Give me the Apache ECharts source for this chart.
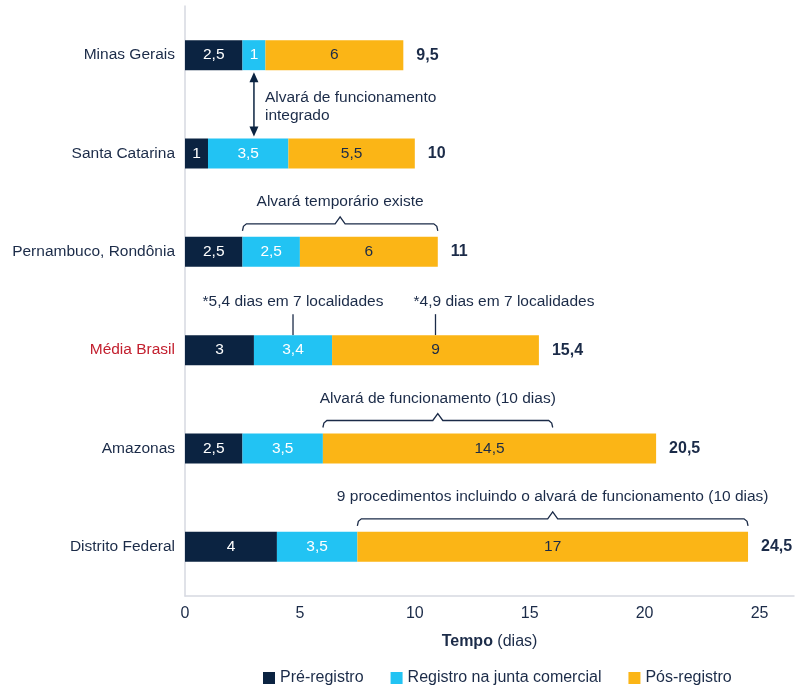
<!DOCTYPE html>
<html lang="pt">
<head>
    <meta charset="UTF-8">
    <script src="https://cdn.jsdelivr.net/npm/echarts@6/dist/echarts.min.js"></script>
    <style>
        html, body { margin: 0; padding: 0; background: #fff; }
    </style>
</head>
<body>
<div id="chart" style="width: 795px;height: 688px"></div>

<script>
    // dados
    var categories = ['Minas Gerais', 'Santa Catarina', 'Pernambuco, Rondônia', 'Média Brasil', 'Amazonas', 'Distrito Federal'];
    var preRegistro = [2.5, 1, 2.5, 3, 2.5, 4];
    var registroJunta = [1, 3.5, 2.5, 3.4, 3.5, 3.5];
    var posRegistro = [6, 5.5, 6, 9, 14.5, 17];
    var xTicks = [0, 5, 10, 15, 20, 25];

    // anotações (valores no eixo x, índice da categoria)
    var arrowNote = [[3, 0, 1]];
    var arrowText = 'Alvará de funcionamento\nintegrado';
    var braceCats = [2, 4, 5];
    var braceFrom = [2.5, 6, 7.5];
    var braceTo = [11, 16, 24.5];
    var braceTexts = ['Alvará temporário existe', 'Alvará de funcionamento (10 dias)', '9 procedimentos incluindo o alvará de funcionamento (10 dias)'];
    var pointerCats = [3, 3];
    var pointerX = [4.7, 10.9];
    var pointerTexts = ['*5,4 dias em 7 localidades', '*4,9 dias em 7 localidades'];

    var NAVY = '#0b2341', CYAN = '#22c3f3', ORANGE = '#fbb516', TEXT = '#1b2b48', RED = '#c3202f';
    var FONT = '"Liberation Sans", Arial, sans-serif';
    var FS = 15.5;   // anotações e categorias
    var FS_AX = 16;  // eixo, legenda, totais
    var BAR_H = 30;

    function fmt(v) {
        return String(v).replace('.', ',');
    }

    var totals = categories.map(function (c, i) {
        return [Math.round((preRegistro[i] + registroJunta[i] + posRegistro[i]) * 10) / 10, i];
    });
    var braceData = braceCats.map(function (c, i) { return [braceFrom[i], braceTo[i], c]; });
    var pointerData = pointerCats.map(function (c, i) { return [pointerX[i], c]; });
    var pointerAlign = ['center', 'left'];

    var chart = echarts.init(document.getElementById('chart'));

    function barSeries(name, data, color, labelColor) {
        return {
            name: name,
            type: 'bar',
            stack: 'total',
            barWidth: BAR_H,
            itemStyle: { color: color },
            label: {
                show: true,
                position: 'inside',
                color: labelColor,
                fontFamily: FONT,
                fontSize: FS,
                formatter: function (p) { return fmt(p.value); }
            },
            data: data
        };
    }

    var option = {
        animation: false,
        textStyle: { fontFamily: FONT },
        grid: { left: 185, right: 1, top: 6, bottom: 92, outerBoundsMode: 'none', containLabel: false },
        legend: {
            data: ['Pré-registro', 'Registro na junta comercial', 'Pós-registro'],
            bottom: -3,
            left: 258,
            icon: 'rect',
            itemWidth: 12,
            itemHeight: 12,
            itemGap: 27,
            textStyle: { color: TEXT, fontFamily: FONT, fontSize: FS_AX }
        },
        xAxis: {
            type: 'value',
            min: 0,
            max: 26.5,
            interval: 5,
            splitLine: { show: false },
            axisTick: { show: false },
            axisLine: { show: true, lineStyle: { color: '#d6d9e1', width: 1.5 } },
            axisLabel: {
                color: TEXT,
                fontFamily: FONT,
                fontSize: FS_AX,
                margin: 10,
                showMaxLabel: false,
                formatter: function (v) { return xTicks.indexOf(v) >= 0 ? String(v) : ''; }
            },
            name: '{b|Tempo} (dias)',
            nameLocation: 'middle',
            nameGap: 38,
            nameTextStyle: {
                color: TEXT,
                fontFamily: FONT,
                fontSize: FS_AX,
                rich: { b: { fontWeight: 'bold', color: TEXT, fontFamily: FONT, fontSize: FS_AX } }
            }
        },
        yAxis: {
            type: 'category',
            inverse: true,
            data: categories,
            axisTick: { show: false },
            axisLine: { show: true, lineStyle: { color: '#d6d9e1', width: 1.5 } },
            axisLabel: {
                margin: 10,
                fontFamily: FONT,
                fontSize: FS,
                color: function (v) { return v === 'Média Brasil' ? RED : TEXT; }
            }
        },
        series: [
            barSeries('Pré-registro', preRegistro, NAVY, '#fff'),
            barSeries('Registro na junta comercial', registroJunta, CYAN, '#fff'),
            barSeries('Pós-registro', posRegistro, ORANGE, TEXT),
            {
                // totais à direita das barras
                type: 'custom',
                silent: true,
                encode: { x: 0, y: 1 },
                data: totals,
                renderItem: function (params, api) {
                    var p = api.coord([api.value(0), api.value(1)]);
                    return {
                        type: 'text',
                        style: {
                            x: p[0] + 13, y: p[1],
                            text: fmt(api.value(0)),
                            fill: TEXT, font: 'bold ' + FS_AX + 'px ' + FONT,
                            textAlign: 'left', textVerticalAlign: 'middle'
                        }
                    };
                }
            },
            {
                // seta entre Minas Gerais e Santa Catarina
                type: 'custom',
                silent: true,
                encode: { x: 0, y: [1, 2] },
                data: arrowNote,
                renderItem: function (params, api) {
                    var a = api.coord([api.value(0), api.value(1)]);
                    var b = api.coord([api.value(0), api.value(2)]);
                    var y1 = a[1] + BAR_H / 2 + 2, y2 = b[1] - BAR_H / 2 - 2, x = a[0];
                    return {
                        type: 'group',
                        children: [
                            { type: 'line', shape: { x1: x, y1: y1 + 8, x2: x, y2: y2 - 8 }, style: { stroke: NAVY, lineWidth: 1.5 } },
                            { type: 'polygon', shape: { points: [[x, y1], [x - 4.5, y1 + 10], [x + 4.5, y1 + 10]] }, style: { fill: NAVY } },
                            { type: 'polygon', shape: { points: [[x, y2], [x - 4.5, y2 - 10], [x + 4.5, y2 - 10]] }, style: { fill: NAVY } },
                            {
                                type: 'text',
                                style: {
                                    x: x + 11, y: (y1 + y2) / 2 + 2,
                                    text: arrowText, fill: TEXT, font: FS + 'px ' + FONT,
                                    lineHeight: 18, textAlign: 'left', textVerticalAlign: 'middle'
                                }
                            }
                        ]
                    };
                }
            },
            {
                // chaves acima das barras
                type: 'custom',
                silent: true,
                encode: { x: [0, 1], y: 2 },
                data: braceData,
                renderItem: function (params, api) {
                    var a = api.coord([api.value(0), api.value(2)]);
                    var b = api.coord([api.value(1), api.value(2)]);
                    var top = a[1] - BAR_H / 2;
                    var yEnd = top - 6, yLine = top - 13, yTip = top - 20;
                    var mid = (a[0] + b[0]) / 2;
                    return {
                        type: 'group',
                        children: [
                            {
                                type: 'polyline',
                                shape: {
                                    points: [
                                        [a[0], yEnd], [a[0] + 1, yLine + 2.5], [a[0] + 4, yLine],
                                        [mid - 5, yLine], [mid, yTip], [mid + 5, yLine],
                                        [b[0] - 4, yLine], [b[0] - 1, yLine + 2.5], [b[0], yEnd]
                                    ]
                                },
                                style: { stroke: TEXT, lineWidth: 1.3, fill: null }
                            },
                            {
                                type: 'text',
                                style: {
                                    x: mid, y: top - 35,
                                    text: braceTexts[params.dataIndex], fill: TEXT, font: FS + 'px ' + FONT,
                                    textAlign: 'center', textVerticalAlign: 'middle'
                                }
                            }
                        ]
                    };
                }
            },
            {
                // marcadores da Média Brasil
                type: 'custom',
                silent: true,
                encode: { x: 0, y: 1 },
                data: pointerData,
                renderItem: function (params, api) {
                    var p = api.coord([api.value(0), api.value(1)]);
                    var top = p[1] - BAR_H / 2;
                    var left = pointerAlign[params.dataIndex] === 'left';
                    return {
                        type: 'group',
                        children: [
                            { type: 'line', shape: { x1: p[0], y1: top - 21, x2: p[0], y2: top }, style: { stroke: TEXT, lineWidth: 1.3 } },
                            {
                                type: 'text',
                                style: {
                                    x: left ? p[0] - 22 : p[0], y: top - 33,
                                    text: pointerTexts[params.dataIndex], fill: TEXT, font: FS + 'px ' + FONT,
                                    textAlign: left ? 'left' : 'center', textVerticalAlign: 'middle'
                                }
                            }
                        ]
                    };
                }
            }
        ]
    };

    chart.setOption(option);
</script>
</body>
</html>
